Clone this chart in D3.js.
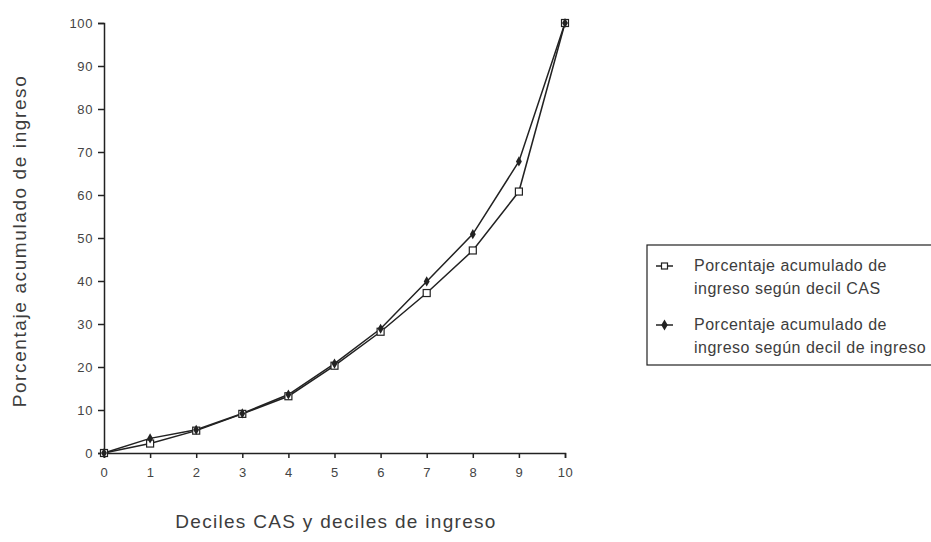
<!DOCTYPE html>
<html><head><meta charset="utf-8">
<script src="https://cdn.jsdelivr.net/npm/d3@7"></script>
<style>body{margin:0;background:#fff}text{font-family:"Liberation Sans",Arial,sans-serif;fill:#3d3d3d}</style>
</head><body><svg id="c" width="931" height="542"></svg>
<script>
const deciles = [0,1,2,3,4,5,6,7,8,9,10];
const casValues = [0,2.2,5.2,9.1,13.2,20.3,28.2,37.2,47.1,60.8,100];
const ingresoValues = [0,3.4,5.4,9.2,13.6,20.8,28.9,39.9,50.9,67.8,100];
const yTicks = [0,10,20,30,40,50,60,70,80,90,100];
const legendLabels = [["Porcentaje acumulado de","ingreso según decil CAS"],["Porcentaje acumulado de","ingreso según decil de ingreso"]];

const svg = d3.select("#c");
const x = d3.scaleLinear().domain([0,10]).range([104,565]);
const y = d3.scaleLinear().domain([0,100]).range([453,23]);
const ink = "#222";

const yAxis = svg.append("g").attr("transform","translate(104,0)")
  .call(d3.axisLeft(y).tickValues(yTicks).tickSize(6).tickPadding(5));
const xAxis = svg.append("g").attr("transform","translate(0,453)")
  .call(d3.axisBottom(x).tickValues(deciles).tickSize(5).tickPadding(10));
[yAxis,xAxis].forEach(a=>{
  a.select(".domain").attr("stroke",ink).attr("stroke-width",1.5);
  a.selectAll(".tick line").attr("stroke",ink).attr("stroke-width",1.5);
  a.selectAll("text").attr("font-size",13).attr("letter-spacing",0.6).style("fill","#444");
});

const line = d3.line().x((d,i)=>x(deciles[i])).y(d=>y(d));
svg.append("path").datum(casValues).attr("d",line).attr("fill","none").attr("stroke",ink).attr("stroke-width",1.5);
svg.append("path").datum(ingresoValues).attr("d",line).attr("fill","none").attr("stroke",ink).attr("stroke-width",1.5);

svg.selectAll(".sq").data(casValues).enter().append("rect")
  .attr("x",(d,i)=>x(deciles[i])-3.5).attr("y",d=>y(d)-3.5).attr("width",7).attr("height",7)
  .attr("fill","#fff").attr("stroke",ink).attr("stroke-width",1.2);
svg.selectAll(".dm").data(ingresoValues).enter().append("path")
  .attr("transform",(d,i)=>`translate(${x(deciles[i])},${y(d)})`)
  .attr("d",d3.symbol(d3.symbolDiamond,30)).attr("fill",ink);

// axis titles
svg.append("text").attr("transform","translate(26,241) rotate(-90)").attr("text-anchor","middle")
  .attr("font-size",19).attr("letter-spacing",1.6).text("Porcentaje acumulado de ingreso");
svg.append("text").attr("x",336).attr("y",528).attr("text-anchor","middle")
  .attr("font-size",19).attr("letter-spacing",1.3).text("Deciles CAS y deciles de ingreso");

// legend
svg.append("rect").attr("x",647).attr("y",245).attr("width",300).attr("height",120)
  .attr("fill","#fff").attr("stroke",ink).attr("stroke-width",1.2);
const lg = svg.append("g");
const ly = [266,325];
legendLabels.forEach((lab,i)=>{
  lg.append("line").attr("x1",656).attr("x2",673).attr("y1",ly[i]).attr("y2",ly[i]).attr("stroke",ink).attr("stroke-width",1.5);
  if(i===0){
    lg.append("rect").attr("x",661.5).attr("y",ly[i]-3).attr("width",6).attr("height",6).attr("fill","#fff").attr("stroke",ink).attr("stroke-width",1.2);
  } else {
    lg.append("path").attr("transform",`translate(664.5,${ly[i]})`).attr("d",d3.symbol(d3.symbolDiamond,36)).attr("fill",ink);
  }
  lab.forEach((t,j)=>{
    lg.append("text").attr("x",694).attr("y",ly[i]+5+j*23).attr("font-size",16).attr("letter-spacing",0.5).text(t);
  });
});
</script></body></html>
